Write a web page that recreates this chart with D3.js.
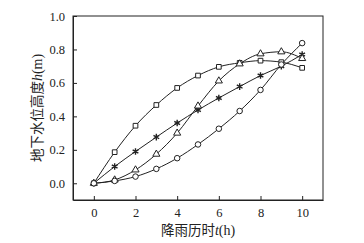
<!DOCTYPE html>
<html>
<head>
<meta charset="utf-8">
<script src="https://cdn.jsdelivr.net/npm/d3@7"></script>
<style>
  body { margin: 0; background: #fff; }
  text { font-family: "Liberation Serif", "DejaVu Serif", serif; fill: #222; }
</style>
</head>
<body>
<script>
// rainfall duration (h)
const hours = [0, 1, 2, 3, 4, 5, 6, 7, 8, 9, 10];

// groundwater height h (m), one array per curve
const squareVals   = [0, 0.186, 0.344, 0.468, 0.57, 0.644, 0.696, 0.72, 0.733, 0.724, 0.69];
const starVals     = [0, 0.10, 0.19, 0.276, 0.36, 0.438, 0.51, 0.578, 0.644, 0.70, 0.77];
const triangleVals = [0, 0.02, 0.08, 0.174, 0.30, 0.462, 0.612, 0.714, 0.774, 0.786, 0.746];
const circleVals   = [0, 0.014, 0.04, 0.086, 0.15, 0.232, 0.326, 0.432, 0.558, 0.71, 0.838];

const xTicks = [0, 2, 4, 6, 8, 10];
const yTicks = [0, 0.2, 0.4, 0.6, 0.8, 1.0];

const W = 364, H = 243;
const margin = { top: 16, right: 41, bottom: 43, left: 73 };
const width = W - margin.left - margin.right;
const height = H - margin.top - margin.bottom;

const svg = d3.select('body').append('svg')
  .attr('width', W)
  .attr('height', H);
const g = svg.append('g')
  .attr('transform', `translate(${margin.left},${margin.top})`);

const x = d3.scaleLinear().domain([-1, 11]).range([0, width]);
const y = d3.scaleLinear().domain([-0.1, 1.0]).range([height, 0]);

// frame
g.append('rect')
  .attr('width', width).attr('height', height)
  .attr('fill', 'none').attr('stroke', '#222').attr('stroke-width', 1);

// axes with inward ticks
const xAxis = g.append('g')
  .attr('transform', `translate(0,${height})`)
  .call(d3.axisBottom(x).tickValues(xTicks).tickSizeInner(-4).tickSizeOuter(0).tickPadding(8));
const yAxis = g.append('g')
  .call(d3.axisLeft(y).tickValues(yTicks).tickSizeInner(-4).tickSizeOuter(0).tickPadding(8)
    .tickFormat(d3.format('.1f')));
[xAxis, yAxis].forEach(a => {
  a.attr('font-family', null);
  a.select('.domain').attr('stroke', '#222');
  a.selectAll('.tick line').attr('stroke', '#222');
  a.selectAll('.tick text')
    .style('font-family', '"Liberation Serif", serif')
    .style('font-size', '12.5px')
    .attr('fill', '#222');
});

const line = d3.line()
  .x((d, i) => x(hours[i]))
  .y(d => y(d))
  .curve(d3.curveMonotoneX);

const series = [
  { vals: squareVals, sym: d3.symbolSquare, size: 22, fill: '#fff' },
  { vals: starVals, sym: d3.symbolAsterisk, size: 30, fill: 'none' },
  { vals: triangleVals, sym: d3.symbolTriangle, size: 22, fill: '#fff' },
  { vals: circleVals, sym: d3.symbolCircle, size: 24, fill: '#fff' }
];

series.forEach(s => {
  g.append('path')
    .datum(s.vals)
    .attr('d', line)
    .attr('fill', 'none')
    .attr('stroke', '#222')
    .attr('stroke-width', 1);
});

series.forEach(s => {
  g.selectAll(null)
    .data(s.vals)
    .enter().append('path')
    .attr('transform', (d, i) => `translate(${x(hours[i])},${y(d)})`)
    .attr('d', d3.symbol().type(s.sym).size(s.size))
    .attr('fill', s.fill)
    .attr('stroke', '#222')
    .attr('stroke-width', s.sym === d3.symbolAsterisk ? 1.4 : 1);
});

// axis titles
const xt = svg.append('text')
  .attr('x', margin.left + x(5))
  .attr('y', 235)
  .attr('text-anchor', 'middle')
  .style('font-size', '14px');
xt.append('tspan').style('font-family', '"Noto Sans CJK SC"').style('font-size', '13.5px').text('降雨历时');
xt.append('tspan').style('font-style', 'italic').text('t');
xt.append('tspan').text('(h)');

const yt = svg.append('text')
  .attr('transform', `translate(42,${margin.top + y(0.45)}) rotate(-90)`)
  .attr('text-anchor', 'middle')
  .style('font-size', '14px');
yt.append('tspan').style('font-family', '"Noto Sans CJK SC"').style('font-size', '13.5px').text('地下水位高度');
yt.append('tspan').style('font-style', 'italic').text('h');
yt.append('tspan').text('(m)');
</script>
</body>
</html>
